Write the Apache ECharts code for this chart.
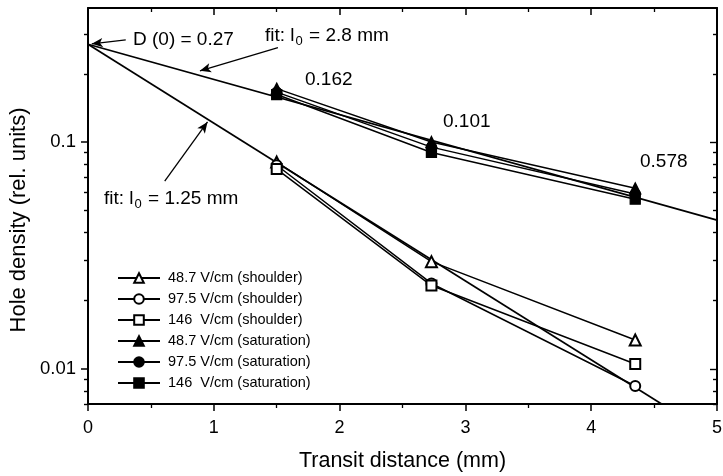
<!DOCTYPE html>
<html>
<head>
<meta charset="utf-8">
<script src="https://cdn.jsdelivr.net/npm/echarts@6/dist/echarts.min.js"></script>
<style>
  html, body { margin: 0; padding: 0; background: #fff; }
  #chart { width: 723px; height: 476px; }
</style>
</head>
<body>
<div id="chart"></div>
<script>
// transit distances (mm)
const xPos = [1.5, 2.73, 4.35];

// shoulder (open symbols)
const sh487 = [0.0816, 0.0297, 0.0134];
const sh975 = [0.079, 0.0238, 0.0084];
const sh146 = [0.076, 0.0233, 0.0105];

// saturation (filled symbols)
const sat487 = [0.172, 0.1, 0.0625];
const sat975 = [0.166, 0.095, 0.059];
const sat146 = [0.162, 0.09, 0.056];

// fit lines (straight on log axis)
const fitSlow = [[0, 0.27], [5, 0.0453]];
const fitFast = [[0, 0.27], [4.56, 0.007]];

const yMajor = [0.01, 0.1];
const yMinor = [0.007, 0.008, 0.009, 0.02, 0.03, 0.04, 0.05, 0.06, 0.07, 0.08, 0.09, 0.2, 0.3];

const FONT = 'Liberation Sans';

function pts(vals) {
    return xPos.map((x, i) => [x, vals[i]]);
}

const chart = echarts.init(document.getElementById('chart'));

function dataSeries(name, vals, symbol, size) {
    return {
        name: name,
        type: 'line',
        data: pts(vals),
        symbol: symbol,
        symbolSize: size,
        lineStyle: { color: '#000', width: 1.5 },
        itemStyle: { color: '#000', borderColor: '#000', borderWidth: 1.3 },
        z: 3
    };
}

function logAxis(pos, inside, len, ticks, showLine) {
    return {
        type: 'log',
        min: 0.007, max: 0.39,
        position: pos,
        axisLine: { show: showLine, lineStyle: { color: '#000', width: 2 } },
        axisTick: { show: true, inside: inside, length: len, customValues: ticks, lineStyle: { color: '#000', width: 1.4 } },
        axisLabel: { show: false },
        splitLine: { show: false }
    };
}

const arrowStyle = { color: '#000', width: 1.3, type: 'solid' };
const txt = '19px "Liberation Sans"';
const subRich = { s: { fontSize: 13, fontFamily: FONT, padding: [10, 1, 0, 1] } };

const option = {
    animation: false,
    textStyle: { fontFamily: FONT },
    grid: { left: 88, right: 6, top: 8, bottom: 72, containLabel: false, outerBoundsMode: 'none' },
    legend: {
        orient: 'vertical',
        left: 112,
        top: 265,
        itemWidth: 42,
        itemHeight: 12,
        itemGap: 5,
        textStyle: { fontFamily: FONT, fontSize: 14.5, lineHeight: 16, color: '#000', padding: [0, 0, 0, 3] },
        data: [
            '48.7 V/cm (shoulder)', '97.5 V/cm (shoulder)', '146  V/cm (shoulder)',
            '48.7 V/cm (saturation)', '97.5 V/cm (saturation)', '146  V/cm (saturation)'
        ]
    },
    xAxis: [{
        type: 'value',
        min: 0, max: 5, interval: 1,
        axisLine: { lineStyle: { color: '#000', width: 2 } },
        axisTick: { inside: false, length: 7, lineStyle: { color: '#000', width: 1.5 } },
        minorTick: { show: true, splitNumber: 2, length: 4, lineStyle: { color: '#000', width: 1.3 } },
        splitLine: { show: false },
        axisLabel: { color: '#000', fontSize: 18, margin: 15, fontFamily: FONT },
        name: 'Transit distance (mm)',
        nameLocation: 'middle',
        nameGap: 46,
        nameTextStyle: { color: '#000', fontSize: 21.5, fontFamily: FONT }
    }, {
        type: 'value',
        position: 'top',
        min: 0, max: 5, interval: 1,
        axisLine: { lineStyle: { color: '#000', width: 2 } },
        axisTick: { inside: true, length: 7, lineStyle: { color: '#000', width: 1.5 } },
        minorTick: { show: true, splitNumber: 2, length: 4, lineStyle: { color: '#000', width: 1.3 } },
        splitLine: { show: false },
        axisLabel: { show: false }
    }],
    yAxis: [{
        type: 'log',
        min: 0.007, max: 0.39,
        axisLine: { show: true, lineStyle: { color: '#000', width: 2 } },
        axisTick: { show: true, inside: false, length: 7, customValues: yMajor, lineStyle: { color: '#000', width: 1.5 } },
        axisLabel: { color: '#000', fontSize: 18.5, margin: 12, customValues: yMajor, fontFamily: FONT,
            formatter: v => String(v) },
        splitLine: { show: false }
    },
        logAxis('left', false, 4, yMinor, false),
        logAxis('right', true, 7, yMajor, true),
        logAxis('right', true, 4, yMinor, false)
    ],
    series: [
        {
            type: 'line',
            data: fitSlow,
            symbol: 'none',
            lineStyle: { color: '#000', width: 1.7 },
            z: 2,
            markLine: {
                silent: true,
                symbol: ['none', 'arrow'],
                symbolSize: [7, 11],
                label: { show: false },
                lineStyle: arrowStyle,
                data: [
                    [{ coord: [0.3, 0.282] }, { coord: [0.03, 0.271] }],
                    [{ coord: [1.51, 0.261] }, { coord: [0.89, 0.206] }],
                    [{ coord: [0.61, 0.0672] }, { coord: [0.95, 0.1226] }]
                ]
            }
        },
        {
            type: 'line',
            data: fitFast,
            symbol: 'none',
            lineStyle: { color: '#000', width: 1.7 },
            z: 2
        },
        dataSeries('48.7 V/cm (shoulder)', sh487, 'emptyTriangle', 11),
        dataSeries('97.5 V/cm (shoulder)', sh975, 'emptyCircle', 10),
        dataSeries('146  V/cm (shoulder)', sh146, 'emptyRect', 10),
        dataSeries('48.7 V/cm (saturation)', sat487, 'triangle', 11),
        dataSeries('97.5 V/cm (saturation)', sat975, 'circle', 10),
        dataSeries('146  V/cm (saturation)', sat146, 'rect', 10)
    ],
    graphic: [
        { type: 'text', x: 19, y: 220, rotation: Math.PI / 2, style: {
            text: 'Hole density (rel. units)', font: '22px "Liberation Sans"', fill: '#000',
            align: 'center', verticalAlign: 'middle' } },
        { type: 'text', x: 133, y: 40, style: { text: 'D (0) = 0.27', font: txt, fill: '#000', verticalAlign: 'middle' } },
        { type: 'text', x: 265, y: 36, style: {
            text: 'fit: l{s|0} = 2.8 mm', font: txt, fill: '#000', verticalAlign: 'middle', rich: subRich } },
        { type: 'text', x: 104, y: 199, style: {
            text: 'fit: l{s|0} = 1.25 mm', font: txt, fill: '#000', verticalAlign: 'middle', rich: subRich } },
        { type: 'text', x: 305, y: 80, style: { text: '0.162', font: txt, fill: '#000', verticalAlign: 'middle' } },
        { type: 'text', x: 443, y: 122, style: { text: '0.101', font: txt, fill: '#000', verticalAlign: 'middle' } },
        { type: 'text', x: 640, y: 162, style: { text: '0.578', font: txt, fill: '#000', verticalAlign: 'middle' } }
    ]
};

chart.setOption(option);
</script>
</body>
</html>
